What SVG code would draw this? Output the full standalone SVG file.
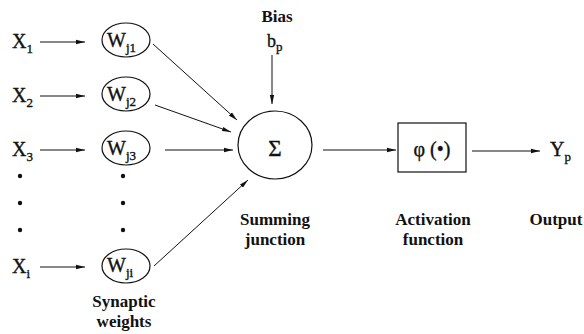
<svg xmlns="http://www.w3.org/2000/svg" width="584" height="334" viewBox="0 0 584 334">
<style>
text{font-family:'Liberation Serif','Times New Roman','DejaVu Serif',serif;fill:#111}
.v{font-size:20px;stroke:#111;stroke-width:0.35}
.s{font-size:13px}
.b{font-size:17px;font-weight:bold;text-anchor:middle}
.n{fill:none;stroke:#111;stroke-width:1.2}
.c{stroke:#111;stroke-width:1;fill:none}
.dot{fill:#111}
</style>
<defs>
<marker id="ah" markerWidth="10" markerHeight="6" refX="9" refY="3" orient="auto" markerUnits="userSpaceOnUse">
<path d="M0,0.8 L9,3 L0,5.2 Z" fill="#111"/>
</marker>
</defs>
<rect width="584" height="334" fill="#fff"/>
<g id="inputs">
<g id="x1"><text class="v" x="12" y="48">X<tspan class="s" dy="5">1</tspan></text></g>
<g id="x2"><text class="v" x="12" y="102">X<tspan class="s" dy="5">2</tspan></text></g>
<g id="x3"><text class="v" x="12" y="156">X<tspan class="s" dy="5">3</tspan></text></g>
<g id="xi"><text class="v" x="12" y="273">X<tspan class="s" dy="5">i</tspan></text></g>
<g id="xdots"><circle class="dot" cx="20" cy="176" r="2.2"/><circle class="dot" cx="20" cy="203" r="2.2"/><circle class="dot" cx="20" cy="230" r="2.2"/></g>
</g>
<g id="w1"><ellipse class="n" cx="126" cy="40" rx="24" ry="17"/><text class="v" x="107" y="47">W<tspan class="s" dy="5">j1</tspan></text></g>
<g id="w2"><ellipse class="n" cx="126" cy="94" rx="24" ry="17"/><text class="v" x="107" y="101">W<tspan class="s" dy="5">j2</tspan></text></g>
<g id="w3"><ellipse class="n" cx="126" cy="148" rx="24" ry="17"/><text class="v" x="107" y="155">W<tspan class="s" dy="5">j3</tspan></text></g>
<g id="wi"><ellipse class="n" cx="126" cy="266" rx="24" ry="17"/><text class="v" x="107" y="272">W<tspan class="s" dy="5">ji</tspan></text></g>
<g id="wdots"><circle class="dot" cx="123" cy="176" r="2.2"/><circle class="dot" cx="123" cy="203" r="2.2"/><circle class="dot" cx="123" cy="230" r="2.2"/></g>
<g id="weights-label"><text class="b" x="124" y="307">Synaptic</text><text class="b" x="124" y="327">weights</text></g>
<g id="bias"><text class="b" x="277" y="22">Bias</text><text class="v" x="267" y="47" style="font-size:18px">b<tspan class="s" dy="4">p</tspan></text></g>
<g id="sum"><ellipse class="n" cx="275" cy="145" rx="37" ry="34"/><text class="v" x="275" y="156" text-anchor="middle" style="font-size:23px">Σ</text></g>
<g id="sum-label"><text class="b" x="275" y="225">Summing</text><text class="b" x="275" y="245">junction</text></g>
<g id="act"><rect class="n" x="398" y="123" width="68" height="49"/><text class="v" x="432" y="156" text-anchor="middle">φ (•)</text></g>
<g id="act-label"><text class="b" x="433" y="225">Activation</text><text class="b" x="433" y="245">function</text></g>
<g id="out"><text class="v" x="550" y="156">Y<tspan class="s" dy="5">p</tspan></text></g>
<g id="out-label"><text class="b" x="556" y="225">Output</text></g>
<g id="connectors">
<line class="c" x1="40" y1="42" x2="85" y2="42" marker-end="url(#ah)"/>
<line class="c" x1="40" y1="96" x2="85" y2="96" marker-end="url(#ah)"/>
<line class="c" x1="40" y1="150" x2="85" y2="150" marker-end="url(#ah)"/>
<line class="c" x1="40" y1="267" x2="85" y2="267" marker-end="url(#ah)"/>
<line class="c" x1="153" y1="44" x2="237" y2="120" marker-end="url(#ah)"/>
<line class="c" x1="155" y1="105" x2="231" y2="132" marker-end="url(#ah)"/>
<line class="c" x1="165" y1="150" x2="233" y2="150" marker-end="url(#ah)"/>
<line class="c" x1="154" y1="266" x2="248" y2="180" marker-end="url(#ah)"/>
<line class="c" x1="272" y1="55" x2="272" y2="104" marker-end="url(#ah)"/>
<line class="c" x1="323" y1="150" x2="396" y2="150" marker-end="url(#ah)"/>
<line class="c" x1="472" y1="151" x2="540" y2="151" marker-end="url(#ah)"/>
</g>
</svg>
